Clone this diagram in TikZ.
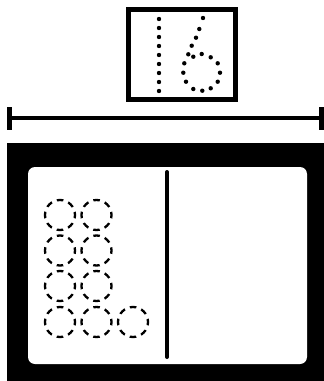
\documentclass[tikz,border=0pt]{standalone}
\begin{document}
\begin{tikzpicture}[x=1pt,y=-1pt,
  dot/.style={fill=black},
  counter/.style={draw=black, line width=2.3pt, dash pattern=on 6.5pt off 5.28pt, dash phase=3.25pt}]
\useasboundingbox (0,0) rectangle (324,381);
% number card
\draw[line width=5pt] (128.5,9.5) rectangle (235.5,99.5);
\foreach \y in {19,28,37,46,55,64,73,82,91} \fill[dot] (159,\y) circle (2.2);
\foreach \p in {(203,18),(199.3,29),(196,37.7),(191.7,45.7),(188.3,54.3),
  (193.3,56.7),(201.7,54),(210.7,57.3),(217.7,63.3),(220,72.7),(217.7,81.7),
  (210.7,88.3),(202.3,90.7),(193.3,89),(186,81.7),(183.3,72.7),(184.3,63.3)}
  \fill[dot] \p circle (2.2);
% measuring line
\draw[line width=4.8pt] (9,118) -- (322,118);
\fill (7,107) rectangle (12,130);
\fill (319,107) rectangle (324,130);
% ten frame board
\fill (7,143) rectangle (324,381);
\fill[white, rounded corners=7pt] (28,167) rectangle (307,364);
\draw[line width=4pt, line cap=round] (167,172) -- (167,357);
\foreach \y in {215,250.5,286,322}
  \foreach \x in {60,96.5} \draw[counter] (\x,\y) circle (15);
\draw[counter] (133,322) circle (15);
\end{tikzpicture}
\end{document}
